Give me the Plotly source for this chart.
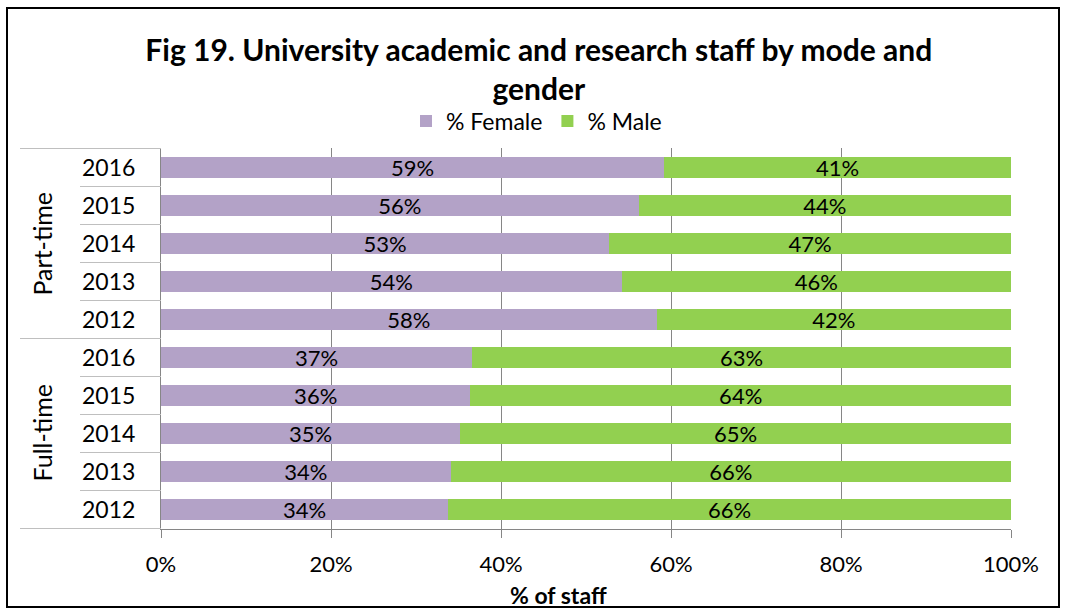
import plotly.graph_objects as go

# data, listed top to bottom as it appears in the chart
modes = ["Part-time"] * 5 + ["Full-time"] * 5
years = ["2016", "2015", "2014", "2013", "2012"] * 2
female = [59.2, 56.2, 52.7, 54.2, 58.3, 36.6, 36.4, 35.2, 34.1, 33.8]
male = [40.8, 43.8, 47.3, 45.8, 41.7, 63.4, 63.6, 64.8, 65.9, 66.2]
x_ticks = [0, 20, 40, 60, 80, 100]

cats = [f"{m} {y}" for m, y in zip(modes, years)]

W, H = 1067, 615
L, R, T, B = 161, 56, 148, 86
FONT = "Lato"


def px_x(p):
	return (p - L) / (W - L - R)


def px_y(p):
	return (H - B - p) / (H - T - B)


fig = go.Figure()
for name, vals, color in [("% Female", female, "#B3A2C7"), ("% Male", male, "#92D050")]:
	fig.add_trace(go.Bar(
		y=cats, x=vals, name=name, orientation="h",
		marker=dict(color=color, line=dict(width=0)),
		texttemplate="%{x:.0f}%", textposition="inside", insidetextanchor="middle",
		constraintext="none", textfont=dict(color="black", size=22),
	))

shapes = []
# dividers between the years in the label column
for i in range(len(cats) + 1):
	boundary = i - 0.5
	edge = i == 0 or i == len(cats) or modes[i] != modes[i - 1]
	shapes.append(dict(
		type="line", xref="paper", yref="y",
		x0=px_x(20) if edge else px_x(80), x1=0, y0=boundary, y1=boundary,
		line=dict(color="#BFBFBF", width=1),
	))
# outer frame
shapes.append(dict(
	type="rect", xref="paper", yref="paper",
	x0=px_x(7), x1=px_x(1059), y0=px_y(607), y1=px_y(8),
	line=dict(color="black", width=2),
))

annotations = []
for m in dict.fromkeys(modes):
	idx = [i for i, v in enumerate(modes) if v == m]
	annotations.append(dict(
		text=m, xref="paper", yref="y", x=px_x(41), y=sum(idx) / len(idx),
		xanchor="center", yanchor="middle",
		textangle=-90, showarrow=False, font=dict(size=25, color="black", family=FONT),
	))
# x axis title
annotations.append(dict(
	text="<b>% of staff</b>", xref="paper", yref="paper", x=px_x(558), y=px_y(595),
	showarrow=False, font=dict(size=23, color="black", family=FONT), yanchor="middle",
))

fig.update_layout(
	width=W, height=H,
	barmode="stack", bargap=0.43,
	paper_bgcolor="white", plot_bgcolor="white",
	margin=dict(l=L, r=R, t=T, b=B),
	font=dict(family=FONT, size=22, color="black"),
	title=dict(
		text="Fig 19. University academic and research staff by mode and<br>gender",
		x=0.505, xanchor="center", y=1 - 61 / H, yanchor="middle",
		font=dict(size=30, weight="bold", family=FONT),
	),
	legend=dict(
		orientation="h", x=px_x(406), xanchor="left", y=px_y(121), yanchor="middle",
		font=dict(size=23), traceorder="normal",
	),
	xaxis=dict(
		range=[0, 100], tickvals=x_ticks, ticktext=[f"{v}%" for v in x_ticks],
		showgrid=True, gridcolor="#868686", gridwidth=1,
		showline=True, linecolor="#868686", linewidth=1,
		ticks="outside", ticklen=8, tickcolor="#868686",
		ticklabelstandoff=8, zeroline=False,
	),
	yaxis=dict(
		categoryorder="array", categoryarray=cats, autorange="reversed",
		tickvals=cats, ticktext=years, tickfont=dict(size=23),
		showline=True, linecolor="#868686", linewidth=1,
		ticks="", ticklabelstandoff=20, showgrid=False,
	),
	shapes=shapes,
	annotations=annotations,
)

fig.write_html(
	"out.html",
	config={"displayModeBar": False},
	post_script="document.body.style.margin='0';",
)
